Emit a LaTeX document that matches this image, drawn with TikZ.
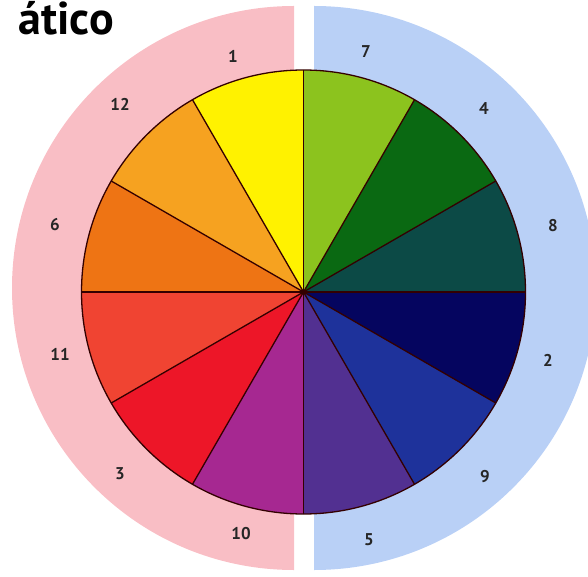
\documentclass[tikz,border=0pt]{standalone}
\usepackage{fontspec}
\setmainfont{PT Sans}
\begin{document}
\begin{tikzpicture}[x=1pt,y=1pt,
  numlbl/.style={font=\bfseries\fontsize{17}{17}\selectfont, text=black!85},
  slice/.style={draw=black!80!red, line width=1.3pt, line join=round}]
\useasboundingbox (0,0) rectangle (588,576);
\clip (0,0) rectangle (588,576);
\definecolor{pinkbg}{RGB}{249,190,197}
\definecolor{bluebg}{RGB}{185,208,246}
\definecolor{c1}{RGB}{255,242,0}
\definecolor{c12}{RGB}{246,162,32}
\definecolor{c6}{RGB}{238,116,20}
\definecolor{c11}{RGB}{240,68,50}
\definecolor{c3}{RGB}{237,22,40}
\definecolor{c10}{RGB}{166,40,145}
\definecolor{c5}{RGB}{82,48,145}
\definecolor{c9}{RGB}{30,50,155}
\definecolor{c2}{RGB}{5,5,95}
\definecolor{c8}{RGB}{12,74,70}
\definecolor{c4}{RGB}{10,105,18}
\definecolor{c7}{RGB}{140,195,30}
% background halves
\fill[pinkbg] (294,570) arc[start angle=90,end angle=270,radius=282] -- cycle;
\fill[bluebg] (314,6) arc[start angle=-90,end angle=90,radius=282] -- cycle;
% wheel
\coordinate (C) at (303.5,284);
\foreach \a/\c in {90/c1,120/c12,150/c6,180/c11,210/c3,240/c10,270/c5,300/c9,330/c2,0/c8,30/c4,60/c7}{
  \fill[\c] (C) -- ++(\a:222) arc[start angle=\a,delta angle=30,radius=222] -- cycle;
}
\foreach \a in {0,30,...,330}{
  \draw[slice] (C) -- ++(\a:222);
}
\draw[slice] (C) circle[radius=222];
% title
\node[anchor=base east, inner sep=0pt, font=\bfseries\fontsize{46}{46}\selectfont] (title) at (114,541) {ático};
% numbers
\node[numlbl] (n1) at (233,520) {1};
\node[numlbl] (n7) at (366,524) {7};
\node[numlbl] (n12) at (120,472) {12};
\node[numlbl] (n4) at (484,467) {4};
\node[numlbl] (n6) at (55,351) {6};
\node[numlbl] (n8) at (553,350) {8};
\node[numlbl] (n11) at (60,222) {11};
\node[numlbl] (n2) at (548,216) {2};
\node[numlbl] (n3) at (120,102) {3};
\node[numlbl] (n9) at (485,99) {9};
\node[numlbl] (n10) at (241,42) {10};
\node[numlbl] (n5) at (369,36) {5};
\end{tikzpicture}
\end{document}
